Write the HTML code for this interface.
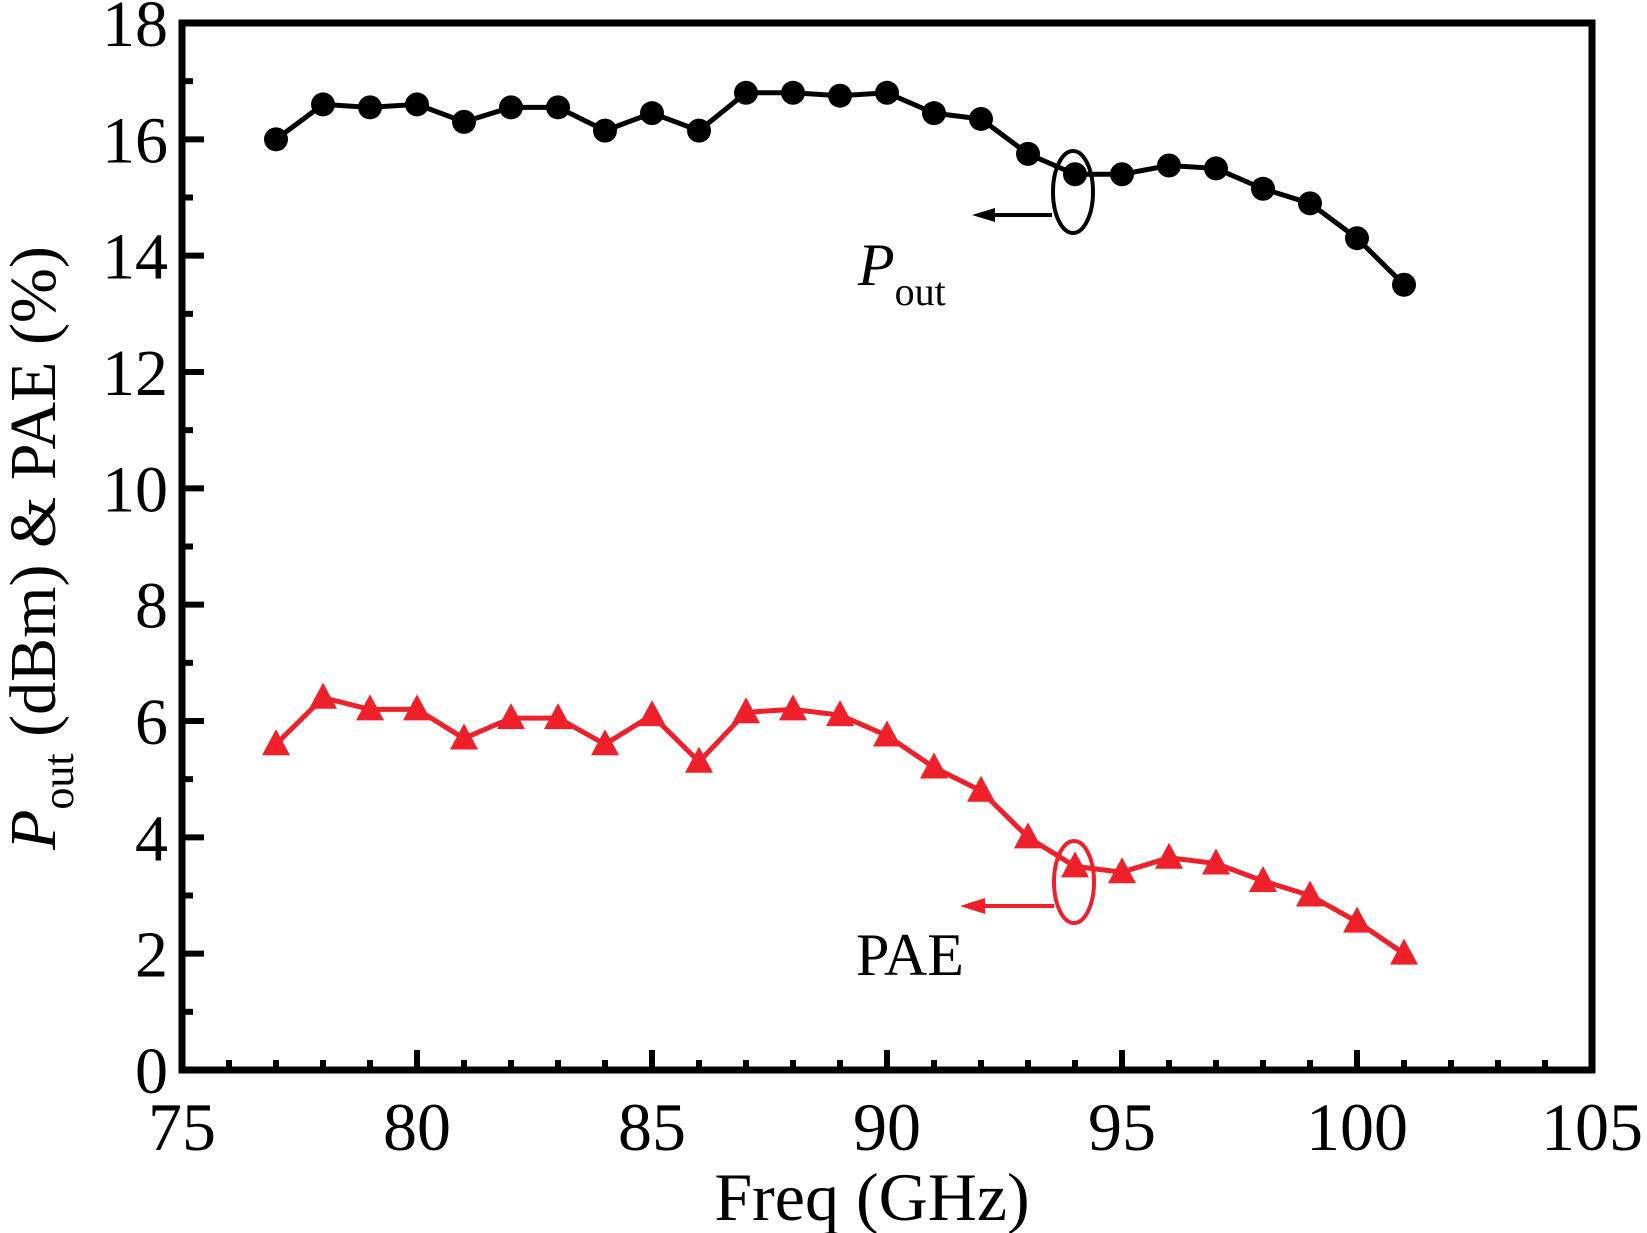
<!DOCTYPE html>
<html><head><meta charset="utf-8"><style>
html,body{margin:0;padding:0;background:#fff;}
svg{display:block;font-family:"Liberation Serif",serif;}
</style></head><body>
<svg id="chart" width="1647" height="1233" viewBox="0 0 1647 1233"></svg>
<script>
const freqs=[77,78,79,80,81,82,83,84,85,86,87,88,89,90,91,92,93,94,95,96,97,98,99,100,101];
const poutValues=[16.0,16.6,16.55,16.6,16.3,16.55,16.55,16.15,16.45,16.15,16.8,16.8,16.75,16.8,16.45,16.35,15.75,15.4,15.4,15.55,15.5,15.15,14.9,14.3,13.5];
const paeValues=[5.6,6.4,6.2,6.2,5.7,6.05,6.05,5.6,6.1,5.3,6.15,6.2,6.1,5.75,5.2,4.8,4.0,3.5,3.4,3.65,3.55,3.25,3.0,2.55,2.0];
const xTicks=[75,80,85,90,95,100,105];
const yTicks=[0,2,4,6,8,10,12,14,16,18];

const NS='http://www.w3.org/2000/svg';
const svg=document.getElementById('chart');
const L=182,R=1592,T=23,B=1070;
const xs=v=>L+(v-75)/30*(R-L);
const ys=v=>B-v/18*(B-T);
function mk(tag,attrs,parent){const e=document.createElementNS(NS,tag);for(const k in attrs)e.setAttribute(k,attrs[k]);(parent||svg).appendChild(e);return e;}

for(let v=76;v<105;v++){
  const major=v%5===0;
  const t=mk('line',{x1:xs(v),x2:xs(v),y1:B,y2:B-(major?20:10),stroke:'#000','stroke-width':6});
  
  
}
for(let v=1;v<18;v++){
  const major=v%2===0;
  const t=mk('line',{x1:L,x2:L+(major?22:11),y1:ys(v),y2:ys(v),stroke:'#000','stroke-width':6});
  
  
}
xTicks.forEach(v=>{
  const t=mk('text',{x:xs(v),y:1150,'text-anchor':'middle','font-size':68});
  t.textContent=v;
  
  
});
yTicks.forEach(v=>{
  const t=mk('text',{x:168,y:ys(v)+23,'text-anchor':'end','font-size':66});
  t.textContent=v;
  
  
});
const frame=mk('rect',{x:L,y:T,width:R-L,height:B-T,fill:'none',stroke:'#000','stroke-width':7});



const pl=mk('polyline',{points:freqs.map((f,i)=>xs(f)+','+ys(poutValues[i])).join(' '),fill:'none',stroke:'#000','stroke-width':5});


freqs.forEach((f,i)=>{
  const c=mk('circle',{cx:xs(f),cy:ys(poutValues[i]),r:12,fill:'#000'});
  
  
});
const red='#f0202a';
const pa=mk('polyline',{points:freqs.map((f,i)=>xs(f)+','+ys(paeValues[i])).join(' '),fill:'none',stroke:red,'stroke-width':5});


freqs.forEach((f,i)=>{
  const x=xs(f),y=ys(paeValues[i]);
  const p=mk('polygon',{points:`${x},${y-15} ${x-14},${y+11} ${x+14},${y+11}`,fill:red});
  
  
});

const e1=mk('ellipse',{cx:1073,cy:192,rx:20,ry:41,fill:'none',stroke:'#000','stroke-width':4});


const a1=mk('line',{x1:1052,y1:215,x2:985,y2:215,stroke:'#000','stroke-width':4});


const h1=mk('polygon',{points:'972,215 995,208 995,222',fill:'#000'});



const e2=mk('ellipse',{cx:1074,cy:882,rx:20,ry:41,fill:'none',stroke:red,'stroke-width':4});


const a2=mk('line',{x1:1054,y1:906,x2:975,y2:906,stroke:red,'stroke-width':4});


const h2=mk('polygon',{points:'960,906 985,898 985,914',fill:red});



const lp=mk('text',{x:858,y:285,'font-size':60});
lp.innerHTML='<tspan font-style="italic">P</tspan><tspan font-size="40" dy="20">out</tspan>';


const la=mk('text',{x:856,y:975,'font-size':60});
la.textContent='PAE';



const xl=mk('text',{x:872,y:1220,'text-anchor':'middle','font-size':68});
xl.textContent='Freq (GHz)';


const yl=mk('text',{x:0,y:0,'text-anchor':'middle','font-size':66,transform:'translate(55,548) rotate(-90)'});
yl.innerHTML='<tspan font-style="italic">P</tspan><tspan font-size="44" dy="18">out</tspan><tspan dy="-18"> (dBm) &amp; PAE (%)</tspan>';


</script>
</body></html>
